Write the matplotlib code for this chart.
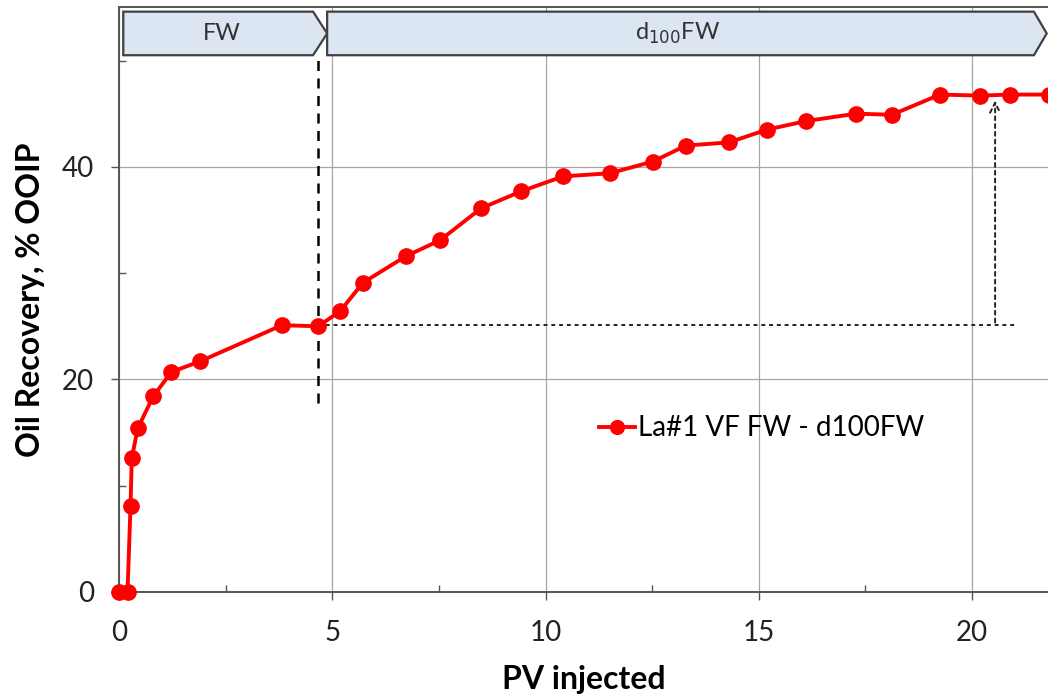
import matplotlib.pyplot as plt
from matplotlib.patches import Polygon
from matplotlib.ticker import MultipleLocator

plt.rcParams['font.family'] = ['Lato', 'DejaVu Sans']

# PV injected vs oil recovery (% OOIP)
pv = [0.0, 0.2, 0.27, 0.3, 0.44, 0.8, 1.23, 1.9, 3.82, 4.67, 5.18, 5.72,
      6.73, 7.53, 8.49, 9.43, 10.41, 11.51, 12.52, 13.29, 14.3, 15.19,
      16.1, 17.28, 18.12, 19.25, 20.19, 20.9, 21.8]
recovery = [0.0, 0.0, 8.1, 12.6, 15.4, 18.4, 20.7, 21.7, 25.1, 25.0, 26.4,
            29.1, 31.6, 33.1, 36.1, 37.7, 39.1, 39.4, 40.5, 42.0, 42.3,
            43.5, 44.3, 45.0, 44.9, 46.8, 46.7, 46.8, 46.8]
series_label = 'La#1 VF FW - d100FW'

switch_pv = 4.67        # end of FW stage
fw_recovery = 25.1      # recovery at end of FW
final_pv = 20.54
final_recovery = 46.5

fig = plt.figure(figsize=(10.48, 6.98), dpi=100)
ax = fig.add_axes([119 / 1048, 106 / 698, 1 - 119 / 1048, 584.6 / 698])

ax.plot(pv, recovery, '-o', color='#ff0000', lw=2.8, ms=11,
        label=series_label, zorder=5, clip_on=False)

ax.set_xlim(0, 21.78)
ax.set_ylim(0, 55)
ax.xaxis.set_major_locator(MultipleLocator(5))
ax.xaxis.set_minor_locator(MultipleLocator(2.5))
ax.yaxis.set_major_locator(MultipleLocator(20))
ax.yaxis.set_minor_locator(MultipleLocator(10))
ax.grid(True, which='major', color='#a6a6a6', lw=0.9)
ax.set_axisbelow(True)
for s in ['left', 'bottom', 'top']:
    ax.spines[s].set_color('#555555')
    ax.spines[s].set_linewidth(1.4)
ax.spines['right'].set_visible(False)
ax.tick_params(which='both', color='#555555', labelsize=20, labelcolor='#222222')
ax.tick_params(which='major', direction='out', length=6, width=1)
ax.tick_params(which='minor', direction='in', length=5, width=1)
ax.tick_params(axis='x', which='major', pad=14)
ax.tick_params(axis='y', which='major', pad=12)

ax.set_xlabel('PV injected', fontsize=23, fontweight='bold', labelpad=14)
ax.set_ylabel('Oil Recovery, % OOIP', fontsize=23, fontweight='bold', labelpad=12)

# stage boundary and recovery increment markers
ax.plot([switch_pv, switch_pv], [17.8, 50.5], ls=(0, (4, 3)), color='black', lw=1.8)
ax.plot([switch_pv, 21.05], [fw_recovery, fw_recovery], ls=(0, (2, 2)),
        color='#222222', lw=1.4)
ax.annotate('', xy=(final_pv, final_recovery), xytext=(final_pv, fw_recovery),
            arrowprops=dict(arrowstyle='->', ls=(0, (2, 2)), color='#222222',
                            lw=1.4, mutation_scale=18))

# stage banners
y0, y1 = 50.5, 54.6
ym = (y0 + y1) / 2
fw_box = [(0.1, y0), (4.55, y0), (4.88, ym), (4.55, y1), (0.1, y1)]
d_box = [(4.88, y0), (21.45, y0), (21.75, ym), (21.45, y1), (4.88, y1)]
for pts in (fw_box, d_box):
    ax.add_patch(Polygon(pts, closed=True, facecolor='#dce6f2',
                         edgecolor='#404040', lw=1.6, zorder=6, clip_on=False))
ax.text(2.4, ym, 'FW', ha='center', va='center', fontsize=17, color='#333333', zorder=7)
ax.text(13.1, ym, r'd$_{100}$FW', ha='center', va='center', fontsize=17,
        color='#333333', zorder=7)

ax.legend(loc='center left', bbox_to_anchor=(0.49, 0.28), frameon=False,
          fontsize=20, handlelength=1.3, handletextpad=0.1, markerscale=0.9)

fig.savefig('out.png', dpi=100)
